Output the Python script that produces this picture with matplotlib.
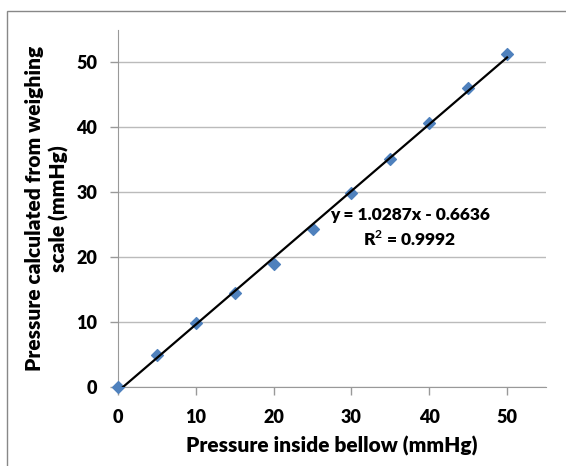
import matplotlib
matplotlib.use("Agg")
import matplotlib.pyplot as plt
import numpy as np
from matplotlib.patches import Rectangle

x_vals = [0, 5, 10, 15, 20, 25, 30, 35, 40, 45, 50]
y_vals = [0, 4.9, 9.8, 14.5, 19.0, 24.4, 29.9, 35.1, 40.7, 46.0, 51.3]
slope = 1.0287
intercept = -0.6636
r2 = 0.9992
ticks = [0, 10, 20, 30, 40, 50]

plt.rcParams['font.family'] = ['Lato', 'DejaVu Sans']
plt.rcParams['font.weight'] = 'bold'
plt.rcParams['mathtext.fontset'] = 'custom'
plt.rcParams['mathtext.rm'] = 'Lato:bold'
plt.rcParams['mathtext.bf'] = 'Lato:bold'

fig = plt.figure(figsize=(5.66, 4.66), dpi=100)
ax = fig.add_axes([118/566, 1-387/466, (546-118)/566, (387-30)/466])

fig.patches.append(Rectangle((7/566, -0.1), 1.2, 1-11/466+0.1, transform=fig.transFigure,
                             fill=False, edgecolor='#888888', linewidth=1))

ax.scatter(x_vals, y_vals, marker='D', s=36, color='#4F81BD', zorder=3, clip_on=False)
xt = np.array([x_vals[0], x_vals[-1]])
ax.plot(xt, slope*xt + intercept, color='black', lw=1.6, zorder=4)

ax.set_xlim(0, 55)
ax.set_ylim(0, 55)
ax.set_xticks(ticks)
ax.set_yticks(ticks)
ax.yaxis.grid(True, color='#BBBBBB', lw=1)
ax.set_axisbelow(True)
for s in ['top', 'right']:
    ax.spines[s].set_visible(False)
for s in ['left', 'bottom']:
    ax.spines[s].set_color('#999999')
ax.tick_params(axis='both', colors='#999999', labelcolor='black', labelsize=13, length=6, width=1)
ax.tick_params(axis='x', pad=10)
ax.tick_params(axis='y', pad=9)
for lab in ax.get_xticklabels() + ax.get_yticklabels():
    lab.set_fontweight('heavy')

ax.set_xlabel('Pressure inside bellow (mmHg)', fontsize=15, fontweight='heavy', labelpad=7)
ax.set_ylabel('Pressure calculated from weighing\nscale (mmHg)', fontsize=15, fontweight='heavy',
              labelpad=5, linespacing=1.3)

ax.text(37.5, 24.5, 'y = 1.0287x - 0.6636\nR$^{2}$ = 0.9992', ha='center', va='center',
        fontsize=12.5, fontweight='heavy', linespacing=1.35)

fig.savefig('out.png', dpi=100)
